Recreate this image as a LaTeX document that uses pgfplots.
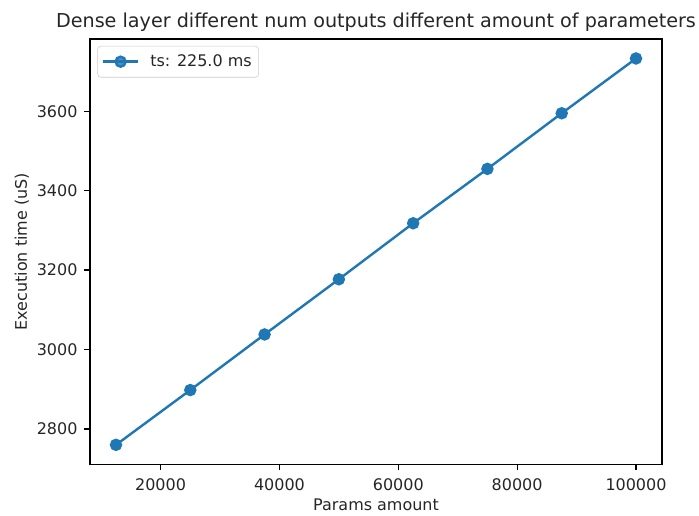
\documentclass[border=0pt]{standalone}
\usepackage{fontspec}
\setmainfont{DejaVu Sans}
\usepackage{pgfplots}
\pgfplotsset{compat=1.18}
\definecolor{mplblue}{HTML}{1F77B4}
\begin{document}
\begin{tikzpicture}
\path[use as bounding box] (-64.8pt,-37.2pt) rectangle (438.48pt,334.3pt);
\begin{axis}[
  at={(0,0)}, anchor=south west,
  scale only axis,
  width=411.84pt, height=306.2pt,
  xmin=8125, xmax=104375,
  ymin=2711, ymax=3782,
  xtick={20000,40000,60000,80000,100000},
  ytick={2800,3000,3200,3400,3600},
  scaled x ticks=false, scaled y ticks=false,
  xticklabel={\pgfmathprintnumber[fixed,precision=0,1000 sep={},assume math mode=true]{\tick}},
  yticklabel={\pgfmathprintnumber[fixed,precision=0,1000 sep={},assume math mode=true]{\tick}},
  tick label style={font=\fontsize{11.5}{13.8}\selectfont, text=black!85},
  xticklabel style={yshift=-2.5pt},
  yticklabel style={xshift=-1.5pt},
  tick align=outside, tick pos=left,
  major tick length=4pt,
  every tick/.style={black, line width=0.92pt},
  axis line style={line width=0.92pt},
  xlabel={Params amount},
  ylabel={Execution time (uS)},
  label style={font=\fontsize{11.5}{13.8}\selectfont, text=black!85},
  xlabel style={at={(axis description cs:0.5,0)}, anchor=center, yshift=-29.3pt},
  ylabel style={at={(axis description cs:0,0.5)}, anchor=center, yshift=49pt},
  title={Dense layer different num outputs different amount of parameters},
  title style={font=\fontsize{13.8}{16.5}\selectfont, text=black!85, at={(axis description cs:0.5,1)}, anchor=base, yshift=2.6pt},
  legend style={at={(axis description cs:0.0128,0.984)}, anchor=north west,
    draw=black!20, rounded corners=2.5pt, fill=white, fill opacity=0.8, text opacity=1,
    font=\fontsize{11.5}{13.8}\selectfont, text=black!85, inner xsep=3pt, inner ysep=4.2pt},
  legend cell align=left,
  legend image code/.code={%
    \draw[mark repeat=2,mark phase=2] plot coordinates {(0pt,0pt) (12.7pt,0pt) (25.4pt,0pt)};
    \path (31.2pt,0pt);},
]
\addplot[color=mplblue, line width=1.73pt, mark=*, mark size=3.6pt, mark options={solid, fill=mplblue, draw=mplblue}]
  coordinates {
    (12500,2760) (25000,2898) (37500,3038) (50000,3177)
    (62500,3318) (75000,3455) (87500,3595) (100000,3733)
  };
\addlegendentry{ts: 225.0 ms}
\end{axis}
\end{tikzpicture}
\end{document}
